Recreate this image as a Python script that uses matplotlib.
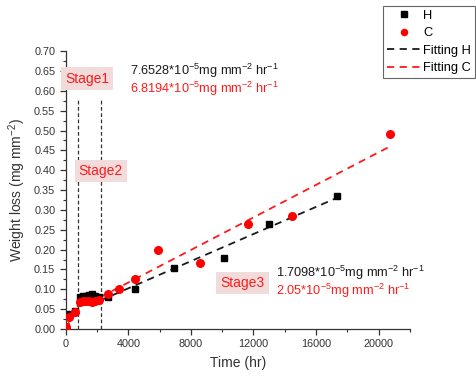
import numpy as np
import matplotlib
matplotlib.use("Agg")
import matplotlib.pyplot as plt
from matplotlib.ticker import MultipleLocator

plt.rcParams['font.family'] = ['Liberation Sans', 'DejaVu Sans']
plt.rcParams['mathtext.fontset'] = 'custom'
plt.rcParams['mathtext.rm'] = 'Liberation Sans'
plt.rcParams['mathtext.it'] = 'Liberation Sans'
plt.rcParams['mathtext.bf'] = 'Liberation Sans:bold'

# measured weight loss, H
h_time = [0, 280, 600, 900, 1100, 1300, 1500, 1700, 1900, 2100, 2700, 4400, 6900, 10100, 12970, 17350]
h_loss = [0, 0.037, 0.045, 0.080, 0.082, 0.084, 0.085, 0.087, 0.084, 0.081, 0.081, 0.102, 0.153, 0.180, 0.264, 0.336]

# measured weight loss, C
c_time = [0, 240, 600, 900, 1100, 1300, 1500, 1700, 1900, 2100, 2700, 3380, 4430, 5880, 8580, 11660, 14460, 20750]
c_loss = [0.004, 0.029, 0.043, 0.068, 0.070, 0.071, 0.070, 0.069, 0.070, 0.072, 0.089, 0.101, 0.125, 0.199, 0.166, 0.265, 0.285, 0.491]

# fitted rates (slope) and intercepts per stage
stage1_slope = {"H": 7.6528e-5, "C": 6.8194e-5}
stage3_slope = {"H": 1.7098e-5, "C": 2.05e-5}
stage3_icpt = {"H": 0.034, "C": 0.035}
stage1_end = 900
stage3_start = 2250
stage3_end = {"H": 17350, "C": 20750}

# stage boundaries
bounds = [805, 2250]

fig = plt.figure(figsize=(4.76, 3.76), dpi=100)
ax = fig.add_axes([0.138, 0.125, 0.723, 0.739])

gray = "#333333"

# stage boundary lines
for b in bounds:
    ax.plot([b, b], [0, 0.58], ls=(0, (3, 2)), c=gray, lw=0.9)

# fitting lines
for key, col in (("H", "#1a1a1a"), ("C", "#ff1a1a")):
    x1 = np.array([0, stage1_end])
    ax.plot(x1, stage1_slope[key]*x1, ls=(0, (4, 3)), c=col, lw=1.3)
    x3 = np.array([stage3_start, stage3_end[key]])
    ax.plot(x3, stage3_icpt[key] + stage3_slope[key]*x3, ls=(0, (4, 3)), c=col, lw=1.3,
            label="Fitting " + key)

ax.plot(h_time, h_loss, ls="none", marker="s", ms=5, c="black", label="H", zorder=3)
ax.plot(c_time, c_loss, ls="none", marker="o", ms=5.5, c="#ff0000", label="C", zorder=4)

ax.set_xlim(0, 22000)
ax.set_ylim(0, 0.70)
ax.xaxis.set_major_locator(MultipleLocator(4000))
ax.xaxis.set_minor_locator(MultipleLocator(2000))
ax.yaxis.set_major_locator(MultipleLocator(0.05))
ax.yaxis.set_minor_locator(MultipleLocator(0.025))
ax.yaxis.set_major_formatter(plt.FormatStrFormatter("%.2f"))

for s in ("top", "right"):
    ax.spines[s].set_visible(False)
for s in ("left", "bottom"):
    ax.spines[s].set_color(gray)
    ax.spines[s].set_linewidth(0.9)
ax.tick_params(which="major", length=4, width=0.9, color=gray, labelsize=7.8, labelcolor=gray)
ax.tick_params(which="minor", length=2.5, width=0.8, color=gray)

ax.set_xlabel("Time (hr)", fontsize=10, color=gray, labelpad=5)
ax.set_ylabel("Weight loss (mg mm$^{-2}$)", fontsize=10, color=gray, labelpad=4)

# stage labels
box = dict(boxstyle="square,pad=0.3", fc="#f2dcdb", ec="none")
ax.text(1360, 0.631, "Stage1", color="#ff1a1a", fontsize=10, ha="center", va="center", bbox=box)
ax.text(2250, 0.398, "Stage2", color="#ff1a1a", fontsize=10, ha="center", va="center", bbox=box)
ax.text(11290, 0.116, "Stage3", color="#ff1a1a", fontsize=10, ha="center", va="center", bbox=box)

# rate annotations
unit = "mg mm$^{-2}$ hr$^{-1}$"
ax.text(4100, 0.650, "7.6528*10$^{-5}$" + unit, color="#1a1a1a", fontsize=9.2, va="center")
ax.text(4100, 0.605, "6.8194*10$^{-5}$" + unit, color="#ff1a1a", fontsize=9.2, va="center")
ax.text(13470, 0.141, "1.7098*10$^{-5}$" + unit, color="#1a1a1a", fontsize=9.2, va="center")
ax.text(13470, 0.0955, "2.05*10$^{-5}$" + unit, color="#ff1a1a", fontsize=9.2, va="center")

handles, labels = ax.get_legend_handles_labels()
order = [labels.index(n) for n in ("H", "C", "Fitting H", "Fitting C")]
leg = fig.legend([handles[i] for i in order], [labels[i] for i in order],
                 loc="upper left", bbox_to_anchor=(383/476, 1 - 6/376),
                 fontsize=9.3, frameon=True, fancybox=False, framealpha=1,
                 edgecolor="#666666", handlelength=2.6, handletextpad=0.2,
                 borderpad=0.3, labelspacing=0.42, borderaxespad=0, markerscale=0.8)
leg.get_frame().set_linewidth(0.8)

fig.savefig("out.png", dpi=100)
